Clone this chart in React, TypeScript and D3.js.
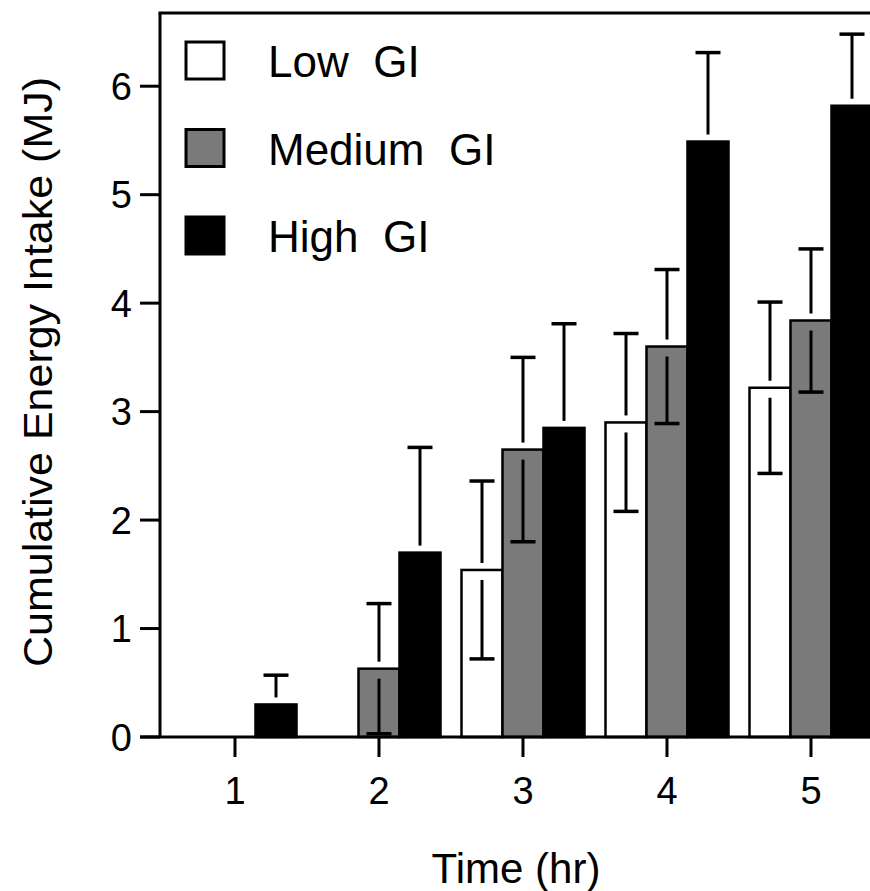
import React from "react";
import * as d3 from "d3";

// Cumulative energy intake (MJ) by hour after a low, medium or high GI breakfast
const times = [1, 2, 3, 4, 5];
const lowGI = [0, 0, 1.54, 2.9, 3.22];
const lowSD = [0, 0, 0.82, 0.82, 0.79];
const mediumGI = [0, 0.63, 2.65, 3.6, 3.84];
const mediumSD = [0, 0.6, 0.85, 0.71, 0.66];
const highGI = [0.3, 1.7, 2.85, 5.49, 5.82];
const highSD = [0.27, 0.97, 0.96, 0.82, 0.66];
const yTicks = [0, 1, 2, 3, 4, 5, 6];
const seriesNames = ["Low  GI", "Medium  GI", "High  GI"];
const seriesFills = ["#ffffff", "#7a7a7a", "#000000"];

const W = 870;
const H = 891;
const FONT = "'Liberation Sans', Arial, Helvetica, sans-serif";

export default function App() {
  const left = 160;
  const bottom = 737;
  const top = 13;
  const right = 900;

  const y = d3.scaleLinear().domain([0, 6.675]).range([bottom, top]);
  const x = d3.scaleLinear().domain([1, 5]).range([235, 811]);
  const barW = 41;

  const series = [
    { values: lowGI, sd: lowSD, offset: -1.5 },
    { values: mediumGI, sd: mediumSD, offset: -0.5 },
    { values: highGI, sd: highSD, offset: 0.5 },
  ];

  const capW = 25;
  const gapAbove = 7;
  const gapBelow = 10;

  return (
    <svg
      width={W}
      height={H}
      style={{ position: "absolute", left: 0, top: 0, background: "#fff" }}
      fontFamily={FONT}
    >
      {/* bars */}
      {series.map((s, si) =>
        s.values.map((v, i) => {
          if (v <= 0) return null;
          const x0 = x(times[i]) + s.offset * barW;
          return (
            <rect
              key={`b${si}-${i}`}
              x={x0}
              y={y(v)}
              width={barW}
              height={bottom - y(v)}
              fill={seriesFills[si]}
              stroke="#000"
              strokeWidth={2.5}
            />
          );
        })
      )}

      {/* error bars: whiskers break around the bar top */}
      {series.map((s, si) =>
        s.values.map((v, i) => {
          if (v <= 0 || s.sd[i] <= 0) return null;
          const cx = x(times[i]) + (s.offset + 0.5) * barW;
          const yTop = y(v + s.sd[i]);
          const yMean = y(v);
          const yLow = y(Math.max(0, v - s.sd[i]));
          return (
            <g key={`e${si}-${i}`} stroke="#000" strokeWidth={3}>
              <line x1={cx} x2={cx} y1={yTop} y2={yMean - gapAbove} />
              <line x1={cx - capW / 2} x2={cx + capW / 2} y1={yTop} y2={yTop} strokeWidth={3.5} />
              {yLow - (yMean + gapBelow) > 0 && (
                <line x1={cx} x2={cx} y1={yMean + gapBelow} y2={yLow} />
              )}
              <line x1={cx - capW / 2} x2={cx + capW / 2} y1={yLow} y2={yLow} strokeWidth={3.5} />
            </g>
          );
        })
      )}

      {/* frame */}
      <line x1={left} x2={left} y1={top} y2={bottom} stroke="#000" strokeWidth={3} />
      <line x1={left - 1.5} x2={right} y1={top} y2={top} stroke="#000" strokeWidth={3} />
      <line x1={left - 20} x2={right} y1={bottom} y2={bottom} stroke="#000" strokeWidth={3} />

      {/* y axis */}
      {yTicks.map((t) => (
        <g key={`yt${t}`}>
          <line x1={left - 20} x2={left} y1={y(t)} y2={y(t)} stroke="#000" strokeWidth={3} />
          <text x={132} y={y(t)} dy="0.36em" textAnchor="end" fontSize={38}>
            {t}
          </text>
        </g>
      ))}

      {/* x axis */}
      {times.map((t) => (
        <g key={`xt${t}`}>
          <line x1={x(t)} x2={x(t)} y1={bottom} y2={bottom + 20} stroke="#000" strokeWidth={3} />
          <text x={x(t)} y={804} textAnchor="middle" fontSize={38}>
            {t}
          </text>
        </g>
      ))}

      {/* axis titles */}
      <text x={516} y={883} textAnchor="middle" fontSize={42}>
        Time (hr)
      </text>
      <text
        transform={`translate(52,372) rotate(-90)`}
        textAnchor="middle"
        fontSize={41}
        textLength={590}
        lengthAdjust="spacingAndGlyphs"
      >
        Cumulative Energy Intake (MJ)
      </text>

      {/* legend */}
      {seriesNames.map((name, i) => {
        const ly = 42 + i * 87.5;
        return (
          <g key={`lg${i}`}>
            <rect
              x={186}
              y={ly}
              width={38}
              height={37}
              fill={seriesFills[i]}
              stroke="#000"
              strokeWidth={3}
            />
            <text x={268} y={ly + 35} fontSize={44} style={{ whiteSpace: "pre" }}>
              {name}
            </text>
          </g>
        );
      })}
    </svg>
  );
}
